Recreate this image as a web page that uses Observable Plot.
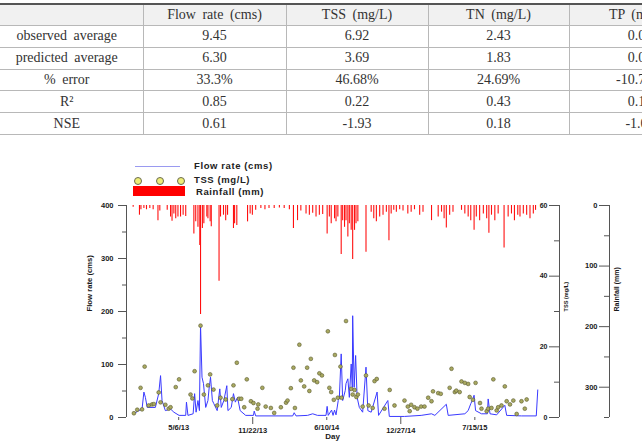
<!DOCTYPE html>
<html><head><meta charset="utf-8">
<script src="https://cdn.jsdelivr.net/npm/d3@7"></script>
<script src="https://cdn.jsdelivr.net/npm/@observablehq/plot@0.6"></script>
<style>
html,body{margin:0;padding:0;background:#fff}
#page{position:relative;width:642px;height:447px;overflow:hidden;font-family:"Liberation Sans",Arial,sans-serif}
#tbl{position:absolute;left:-9px;top:3px;border-collapse:collapse;table-layout:fixed;width:720px;
  font-family:"Liberation Serif","Times New Roman",serif;font-size:14px;color:#333;word-spacing:3px}
#tbl th,#tbl td{padding:0;text-align:center;vertical-align:middle;border:1px solid #b8b8b8;font-weight:normal;white-space:nowrap;overflow:hidden}
#tbl thead th{background:#f1f1f1;border-top:2px solid #555;height:20px}
#tbl tbody td{height:20.8px}
#tbl td:first-child,#tbl th:first-child{border-left:none}
#chart{position:absolute;left:0;top:140px;width:642px;height:307px}
#chart svg{position:absolute;left:0;top:0}
.lg{position:absolute;font-weight:bold;font-size:9.5px;letter-spacing:0.6px;color:#222;line-height:10px}
</style>
</head><body>
<div id="page">
  <table id="tbl"></table>
  <div id="chart"></div>
  <div id="legend"></div>
</div>
<script>
// ---------- table data ----------
const tableColumns = ["Flow rate (cms)", "TSS (mg/L)", "TN (mg/L)", "TP (mg/L)"];
const rowLabels = ["observed average", "predicted average", "% error", "R²", "NSE"];
const flowCol = ["9.45", "6.30", "33.3%", "0.85", "0.61"];
const tssCol = ["6.92", "3.69", "46.68%", "0.22", "-1.93"];
const tnCol = ["2.43", "1.83", "24.69%", "0.43", "0.18"];
const tpCol = ["0.05", "0.06", "-10.71%", "0.15", "-1.05"];

// ---------- chart data (day index from 2013-01-01) ----------
const flowDay = [4,17,26,31,35,40,53,62,71,76,80,89,103,112,126,144,146,150,164,168,172,177,181,184,188,192,198,204,207,211,216,220,229,236,240,247,255,258,267,273,278,284,291,306,327,329,333,433,437,442,473,487,500,523,526,529,538,542,546,550,556,559,564,568,575,577,582,586,591,594,595,599,603,607,613,622,631,636,645,661,665,690,694,735,780,808,817,848,853,898,907,914,918,923,927,943,959,961,966,984,1006,1011,1051,1091,1095];
const flowValue = [7,13,16,48,38,19,19,19,45,79,32,13,16,10,4,4,29,4,7,45,10,32,13,174,76,64,19,32,54,76,32,26,13,54,19,32,60,13,19,45,29,38,13,4,4,12,3,3,9,3,4,7,4,4,21,4,14,4,14,5,32,38,120,32,51,64,73,38,101,57,192,57,117,38,19,10,95,13,10,48,4,32,2,2,4,7,4,25,4,7,13,26,32,42,13,7,7,35,7,5,23,4,3,3,52];

const tssDay = [4,13,22,26,33,44,53,58,71,76,89,98,103,117,126,157,162,168,184,193,204,210,219,229,238,252,270,273,282,288,294,302,309,320,327,338,340,351,360,374,383,401,415,419,428,435,439,451,455,464,472,478,482,491,499,505,512,528,532,537,544,547,555,562,565,577,591,595,600,605,609,622,631,638,649,654,660,681,695,708,735,744,749,753,762,770,780,789,799,808,812,826,833,857,862,871,875,884,889,898,907,911,920,927,939,943,957,961,970,975,984,988,997,1006,1011,1020,1029,1038,1051,1060,1065];
const tssValue = [1.2,2.2,8.4,2.3,14.4,3.4,3.7,3.8,7.1,4.3,3.6,2.5,2.9,8.6,10.8,6.5,5.4,13.1,26.0,6.5,9.1,12.2,7.9,3.4,5.6,5.1,5.2,9.1,15.5,5.3,5.3,2.9,10.8,4.6,4.1,2.5,3.7,8.4,3.1,2.7,1.3,2.9,4.2,4.8,8.3,14.1,2.7,20.6,10.5,8.8,14.1,7.5,16.6,10.5,10.0,12.5,11.9,24.4,8.4,7.2,5.0,17.7,5.6,14.4,5.6,27.3,8.1,6.5,7.8,5.8,6.5,3.1,11.9,3.4,2.7,10.3,10.9,2.5,7.8,3.4,4.8,3.1,1.8,3.6,2.9,2.5,3.1,3.1,5.6,4.6,7.4,6.9,6.7,8.4,13.8,7.2,7.6,7.2,10.2,9.8,9.5,5.8,5.0,9.8,4.1,2.5,1.8,2.5,2.7,10.8,2.0,2.9,3.4,8.8,4.6,3.7,4.8,1.0,4.6,2.5,5.1];

const rainDay = [2,19,23,31,38,47,56,69,74,94,103,107,112,117,123,130,137,144,166,171,177,182,184,189,193,201,204,210,213,234,238,246,252,257,273,276,282,311,318,324,333,347,358,369,383,397,410,424,435,446,455,469,478,487,496,505,514,526,532,537,546,550,555,564,568,573,577,582,586,591,595,600,604,609,631,645,652,659,668,677,686,693,699,706,713,722,731,744,753,762,776,785,808,826,835,842,848,857,866,889,898,907,914,923,929,938,948,957,963,970,979,988,1004,1015,1024,1032,1041,1047,1056,1065,1074,1083,1089];
const rainValue = [3,16,7,5,7,5,7,25,9,8,19,26,14,22,19,19,16,18,47,27,36,66,180,38,30,19,22,27,35,125,19,16,25,16,38,30,33,27,14,16,8,5,7,5,5,4,5,7,38,25,9,14,16,13,19,16,15,47,19,30,22,27,19,81,25,36,25,52,30,41,89,41,30,27,77,11,22,27,19,16,11,58,14,8,11,7,9,14,11,7,16,11,25,19,11,22,37,16,11,8,14,19,25,41,19,25,14,22,46,16,25,14,70,19,14,25,16,19,14,16,22,14,8];

// ---------- axis ticks ----------
const flowTicks = [0, 100, 200, 300, 400];
const flowMinor = [50, 150, 250, 350];
const tssTicks = [0, 20, 40, 60];
const tssMinor = [10, 30, 50];
const rainTicks = [0, 100, 200, 300];
const rainMinor = [50, 150, 250, 350];
const dateTicksUpper = ["2013-05-06", "2014-06-10", "2015-07-15"];
const dateTicksLower = ["2013-11-22", "2014-12-27"];
const xStart = "2012-12-16", xEnd = "2016-01-03";

const legendLabels = ["Flow rate (cms)", "TSS (mg/L)", "Rainfall (mm)"];

// ---------- table ----------
(function(){
  let h = '<colgroup><col style="width:152px"><col style="width:143px"><col style="width:142px"><col style="width:141px"><col style="width:142px"></colgroup>';
  h += '<thead><tr><th></th>' + tableColumns.map(c => `<th>${c}</th>`).join('') + '</tr></thead><tbody>';
  rowLabels.forEach((r, i) => {
    h += `<tr><td>${r}</td><td>${flowCol[i]}</td><td>${tssCol[i]}</td><td>${tnCol[i]}</td><td>${tpCol[i]}</td></tr>`;
  });
  h += '</tbody>';
  document.getElementById('tbl').innerHTML = h;
})();

// ---------- chart ----------
const parse = s => { const [y,m,d] = s.split('-').map(Number); return new Date(y, m-1, d); };
const toDate = d => new Date(2013, 0, 1 + d);
const flow = flowDay.map((d, i) => ({date: toDate(d), value: flowValue[i]}));
const tss = tssDay.map((d, i) => ({date: toDate(d), value: tssValue[i]}));
const rain = rainDay.map((d, i) => ({date: toDate(d), value: rainValue[i]}));

const FLOW_MAX = 400, TSS_MAX = 60, RAIN_MAX = 350;
const tssToFlow = v => v * FLOW_MAX / TSS_MAX;
const rainToFlow = v => FLOW_MAX - v * FLOW_MAX / RAIN_MAX;
const fmt = d => `${d.getMonth()+1}/${d.getDate()}/${String(d.getFullYear()).slice(2)}`;

const W = 642, H = 307, MT = 65, MB = 30;
const FONT = "Liberation Sans, Arial, sans-serif";
const baseStyle = {background: "transparent", fontFamily: FONT, fontWeight: "bold", overflow: "visible", color: "#1a1a1a"};
const xDomain = [parse(xStart), parse(xEnd)];

const main = Plot.plot({
  width: W, height: H, marginTop: MT, marginBottom: MB, marginLeft: 126, marginRight: 104,
  style: baseStyle,
  x: {type: "time", domain: xDomain},
  y: {domain: [0, FLOW_MAX]},
  marks: [
    Plot.ruleX(rain, {x: "date", y1: FLOW_MAX, y2: d => rainToFlow(d.value), stroke: "#ff1010", strokeWidth: 1.1}),
    Plot.lineY(flow, {x: "date", y: "value", stroke: "#3a3aff", strokeWidth: 1}),
    Plot.dot(tss, {x: "date", y: d => tssToFlow(d.value), r: 1.9, fill: "#a8a860", stroke: "#5a5a30", strokeWidth: 0.6}),
    Plot.ruleX([xDomain[0]], {stroke: "#555"}),
    Plot.axisY(flowTicks, {anchor: "left", tickSize: 8, tickPadding: 5, fontSize: 7.5, label: null, stroke: "#555"}),
    Plot.axisY(flowMinor, {anchor: "left", tickSize: 4, tickFormat: () => "", label: null, stroke: "#555"}),
    Plot.axisX(dateTicksUpper.map(parse), {anchor: "bottom", tickSize: 3, tickPadding: 4, tickFormat: fmt, fontSize: 7.5, label: null, stroke: "#555"}),
    Plot.axisX(dateTicksLower.map(parse), {anchor: "bottom", tickSize: 7, tickPadding: 3, tickFormat: fmt, fontSize: 7.5, label: null, stroke: "#555"}),
    Plot.text(["Day"], {frameAnchor: "bottom", dy: 21, fontSize: 8}),
    Plot.text(["Flow rate (cms)"], {frameAnchor: "left", dx: -37, rotate: -90, fontSize: 7.7})
  ]
});

const tssAxis = Plot.plot({
  width: W, height: H, marginTop: MT, marginBottom: MB, marginLeft: 559, marginRight: W - 560,
  style: baseStyle,
  x: {domain: [0, 1], axis: null},
  y: {domain: [0, TSS_MAX]},
  marks: [
    Plot.ruleX([0], {stroke: "#555"}),
    Plot.axisY(tssTicks, {anchor: "left", tickSize: 10, tickPadding: 2, fontSize: 7, label: null, stroke: "#555"}),
    Plot.axisY(tssMinor, {anchor: "left", tickSize: 5, tickFormat: () => "", label: null, stroke: "#555"}),
    Plot.text(["TSS (mg/L)"], {frameAnchor: "left", dx: 7, rotate: -90, fontSize: 5.6})
  ]
});

const rainAxis = Plot.plot({
  width: W, height: H, marginTop: MT, marginBottom: MB, marginLeft: 609, marginRight: W - 610,
  style: baseStyle,
  x: {domain: [0, 1], axis: null},
  y: {domain: [0, RAIN_MAX], reverse: true},
  marks: [
    Plot.ruleX([0], {stroke: "#555"}),
    Plot.axisY(rainTicks, {anchor: "left", tickSize: 10, tickPadding: 2, fontSize: 7.5, label: null, stroke: "#555"}),
    Plot.axisY(rainMinor, {anchor: "left", tickSize: 5, tickFormat: () => "", label: null, stroke: "#555"}),
    Plot.text(["Rainfall (mm)"], {frameAnchor: "left", dx: 7, rotate: -90, fontSize: 7})
  ]
});

const chart = document.getElementById('chart');
chart.append(main, tssAxis, rainAxis);

// ---------- legend ----------
const lg = document.getElementById('legend');
lg.innerHTML = `
  <div style="position:absolute;left:135px;top:165.5px;width:45px;height:1px;background:#9a9af0"></div>
  ${[137,159,180].map(x => `<div style="position:absolute;left:${x-3.5}px;top:176.5px;width:6px;height:6px;border-radius:50%;background:#eeee77;border:0.8px solid #6a6a50"></div>`).join('')}
  <div style="position:absolute;left:133px;top:186px;width:52px;height:10px;background:#ff0000"></div>
  <div class="lg" style="left:194px;top:161px">${legendLabels[0]}</div>
  <div class="lg" style="left:194px;top:175px">${legendLabels[1]}</div>
  <div class="lg" style="left:196px;top:187px">${legendLabels[2]}</div>
`;
</script>
</body></html>
